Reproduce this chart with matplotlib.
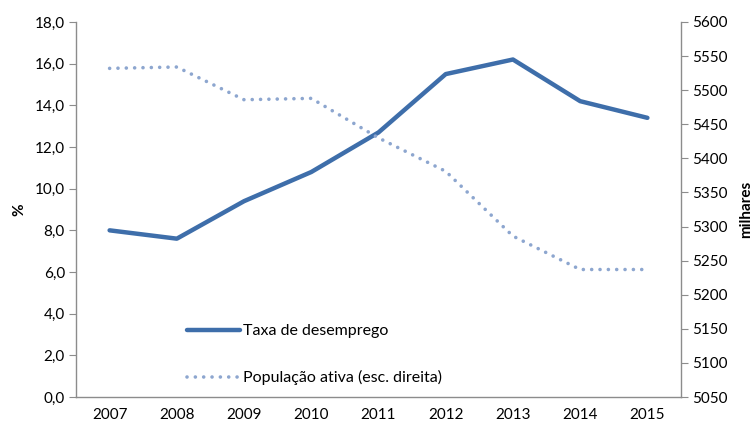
import matplotlib
matplotlib.use("Agg")
import matplotlib.pyplot as plt
from matplotlib.ticker import FuncFormatter, MultipleLocator

plt.rcParams['font.family'] = ['Lato', 'DejaVu Sans']

# dados
anos = [2007, 2008, 2009, 2010, 2011, 2012, 2013, 2014, 2015]
taxa_desemprego = [8.0, 7.6, 9.4, 10.8, 12.7, 15.5, 16.2, 14.2, 13.4]
populacao_ativa = [5532, 5534, 5486, 5488, 5430, 5381, 5286, 5237, 5237]

cor_taxa = '#3E6EAA'
cor_pop = '#8DA6CF'
cor_eixo = '#8C8C8C'

fig = plt.figure(figsize=(7.54, 4.28), dpi=100)
ax = fig.add_axes([0.1008, 0.0724, 0.8024, 0.8762])
ax2 = ax.twinx()

l1, = ax.plot(anos, taxa_desemprego, color=cor_taxa, lw=3.2, solid_capstyle='round',
              label='Taxa de desemprego')
l2, = ax2.plot(anos, populacao_ativa, color=cor_pop, lw=2.6, linestyle=(0, (0.01, 2.3)),
               dash_capstyle='round', label='População ativa (esc. direita)')

ax.set_xlim(2006.5, 2015.5)
ax.set_ylim(0, 18)
ax2.set_ylim(5050, 5600)
ax.yaxis.set_major_locator(MultipleLocator(2))
ax2.yaxis.set_major_locator(MultipleLocator(50))
ax.yaxis.set_major_formatter(FuncFormatter(lambda v, p: f"{v:.1f}".replace('.', ',')))
ax.set_xticks(anos)

for a in (ax, ax2):
    for s in a.spines.values():
        s.set_visible(False)
ax.spines['left'].set_visible(True)
ax.spines['bottom'].set_visible(True)
ax2.spines['right'].set_visible(True)
for s in (ax.spines['left'], ax.spines['bottom'], ax2.spines['right']):
    s.set_color(cor_eixo)
    s.set_linewidth(1.0)

ax.tick_params(axis='y', length=5, color=cor_eixo, labelsize=11, pad=3)
ax.tick_params(axis='x', length=0, labelsize=11, pad=8)
ax2.tick_params(axis='y', length=5, color=cor_eixo, labelsize=11, pad=3)

ax.set_ylabel('%', fontsize=11, fontweight='bold', labelpad=6)
ax2.set_ylabel('milhares', fontsize=11, fontweight='bold', labelpad=8)

fig.legend(handles=[l1, l2], loc='upper left', bbox_to_anchor=(0.24, 0.258),
           frameon=False, fontsize=11.5, labelspacing=2.0, handlelength=3.3,
           handletextpad=0.2, borderaxespad=0)

fig.savefig('out.png', dpi=100)
